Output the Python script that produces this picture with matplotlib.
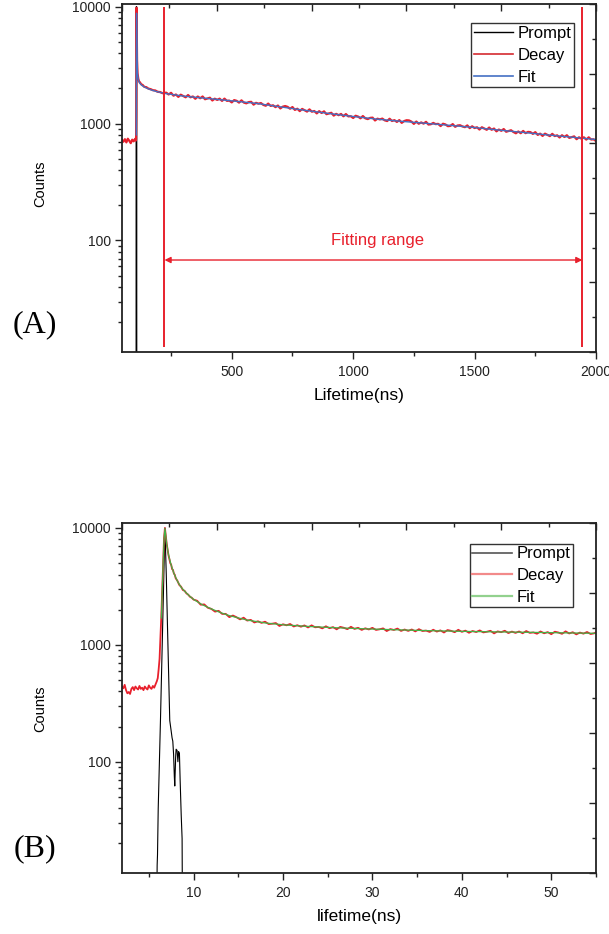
import matplotlib
matplotlib.use('Agg')
import matplotlib.pyplot as plt
from matplotlib.ticker import LogLocator, NullFormatter
from matplotlib.lines import Line2D

plt.rcParams['font.family'] = ['Liberation Sans', 'DejaVu Sans']

# ---------------- Panel A data (ns, counts) ----------------
a_prompt_x = [48, 106.5, 107.2, 107.6, 108.0, 108.6, 2000]
a_prompt_y = [1, 1, 300, 10000, 300, 1, 1]

a_decay_x = [48, 54, 60, 66, 72, 78, 84, 90, 96, 102, 105, 106, 107, 108, 109, 110, 112, 115,
             118, 122, 127, 133, 140, 148, 157, 166, 175, 185, 195, 205, 215, 222,
             230, 240, 250, 260, 270, 280, 290, 300, 310, 320, 330, 340, 350, 360, 370, 380, 390, 400,
             410, 420, 430, 440, 450, 460, 470, 480, 490, 500, 510, 520, 530, 540, 550, 560, 570, 580,
             590, 600, 610, 620, 630, 640, 650, 660, 670, 680, 690, 700, 710, 720, 730, 740, 750, 760,
             770, 780, 790, 800, 810, 820, 830, 840, 850, 860, 870, 880, 890, 900, 910, 920, 930, 940,
             950, 960, 970, 980, 990, 1000, 1010, 1020, 1030, 1040, 1050, 1060, 1070, 1080, 1090, 1100,
             1110, 1120, 1130, 1140, 1150, 1160, 1170, 1180, 1190, 1200, 1210, 1220, 1230, 1240, 1250,
             1260, 1270, 1280, 1290, 1300, 1310, 1320, 1330, 1340, 1350, 1360, 1370, 1380, 1390, 1400,
             1410, 1420, 1430, 1440, 1450, 1460, 1470, 1480, 1490, 1500, 1510, 1520, 1530, 1540, 1550,
             1560, 1570, 1580, 1590, 1600, 1610, 1620, 1630, 1640, 1650, 1660, 1670, 1680, 1690, 1700,
             1710, 1720, 1730, 1740, 1750, 1760, 1770, 1780, 1790, 1800, 1810, 1820, 1830, 1840, 1850,
             1860, 1870, 1880, 1890, 1900, 1910, 1920, 1930, 1940, 1950, 1960, 1970, 1980, 1990, 2000]
a_decay_y = [725, 700, 735, 690, 742, 712, 680, 728, 705, 740, 715, 735, 1200, 9800, 5400, 3500, 2700, 2420,
             2300, 2250, 2170, 2140, 2060, 2050, 1990, 1970, 1930, 1920, 1870, 1860, 1820, 1830,
             1840, 1774, 1833, 1733, 1774, 1692, 1767, 1720, 1678, 1755, 1679, 1705, 1630, 1705, 1647, 1706, 1615, 1640,
             1665, 1576, 1633, 1594, 1634, 1563, 1635, 1564, 1572, 1518, 1588, 1566, 1511, 1581, 1512, 1490, 1527, 1535,
             1452, 1505, 1480, 1499, 1445, 1421, 1483, 1416, 1434, 1382, 1428, 1348, 1395, 1413, 1390, 1340, 1385, 1309,
             1340, 1278, 1335, 1300, 1266, 1323, 1263, 1281, 1222, 1277, 1232, 1273, 1203, 1220, 1237, 1170, 1211, 1180,
             1209, 1154, 1206, 1152, 1157, 1116, 1167, 1149, 1109, 1160, 1109, 1092, 1119, 1124, 1063, 1101,
             1086, 1103, 1066, 1051, 1100, 1052, 1070, 1033, 1071, 1014, 1051, 1068, 1064, 1039, 994,
             1041, 997, 1023, 999, 1035, 981, 987, 1013, 989, 995, 952, 997, 983, 950, 955,
             990, 938, 963, 968, 945, 932, 965, 914, 948, 916, 930, 889, 930, 907, 885,
             925, 885, 907, 858, 889, 867, 898, 851, 864, 877, 847, 826, 856, 827, 865,
             828, 849, 845, 816, 845, 800, 820, 784, 820, 800, 781, 817, 782, 794, 760,
             795, 768, 795, 754, 765, 777, 735, 763, 743, 763, 729, 763, 730, 734, 708]

a_fit_x = [107, 108, 109, 110, 112, 115, 120, 130, 145, 165, 190, 225, 300, 400, 500, 600, 700, 800,
           900, 1000, 1100, 1200, 1300, 1400, 1500, 1600, 1700, 1800, 1900, 2000]
a_fit_y = [800, 8800, 5000, 3300, 2650, 2380, 2230, 2120, 2030, 1950, 1880, 1810, 1720, 1640, 1565, 1490, 1390, 1300,
           1220, 1150, 1090, 1045, 1005, 965, 925, 880, 840, 800, 765, 730]

a_range = [223, 1944]          # fitting range limits (ns)
a_range_lo, a_range_hi = 12.3, 10000
a_arrow_y = 68
a_text_pos = (1100, 100)

# ---------------- Panel B data (ns, counts) ----------------
b_prompt_x = [2.0, 5.8, 5.93, 5.97, 6.05, 6.3, 6.55, 6.8, 6.95, 7.1, 7.34, 7.47, 7.6, 7.68, 7.77, 7.85, 7.9,
              8.0, 8.05, 8.16, 8.25, 8.33, 8.42, 8.5, 8.62, 8.72, 8.8, 55.0]
b_prompt_y = [1, 1, 13, 16, 40, 225, 1500, 10000, 4000, 1300, 225, 190, 160, 150, 115, 75, 62,
              110, 128, 125, 100, 122, 118, 70, 35, 22, 1, 1]

b_decay_x = [2.0, 2.15, 2.3, 2.45, 2.6, 2.75, 2.9, 3.05, 3.2, 3.35, 3.5, 3.65, 3.8, 3.95, 4.1, 4.25, 4.4,
             4.55, 4.7, 4.85, 5.0, 5.15, 5.3, 5.45, 5.6, 5.75, 5.9,
             6.0, 6.1, 6.2, 6.3, 6.4, 6.5, 6.6, 6.7, 6.8, 6.9, 7.0, 7.1, 7.2, 7.3, 7.4, 7.5, 7.6, 7.7, 7.8,
             7.9, 8.0, 8.2, 8.4, 8.6, 8.8, 9.0, 9.2, 9.4, 9.6, 9.8, 10.0,
             10.4, 10.8, 11.2, 11.6, 12.0, 12.4, 12.8, 13.2, 13.6, 14.0, 14.4, 14.8, 15.2, 15.6, 16.0,
             16.4, 16.8, 17.2, 17.6, 18.0, 18.4, 18.8, 19.2, 19.6, 20.0, 20.4, 20.8, 21.2, 21.6, 22.0,
             22.4, 22.8, 23.2, 23.6, 24.0, 24.4, 24.8, 25.2, 25.6, 26.0, 26.4, 26.8, 27.2, 27.6, 28.0,
             28.4, 28.8, 29.2, 29.6, 30.0, 30.4, 30.8, 31.2, 31.6, 32.0, 32.4, 32.8, 33.2, 33.6, 34.0,
             34.4, 34.8, 35.2, 35.6, 36.0, 36.4, 36.8, 37.2, 37.6, 38.0, 38.4, 38.8, 39.2, 39.6, 40.0,
             40.4, 40.8, 41.2, 41.6, 42.0, 42.4, 42.8, 43.2, 43.6, 44.0, 44.4, 44.8, 45.2, 45.6, 46.0,
             46.4, 46.8, 47.2, 47.6, 48.0, 48.4, 48.8, 49.2, 49.6, 50.0, 50.4, 50.8, 51.2, 51.6, 52.0,
             52.4, 52.8, 53.2, 53.6, 54.0, 54.4, 54.8, 55.0]
b_decay_y = [440, 425, 455, 410, 385, 395, 380, 420, 435, 410, 440, 425, 415, 445, 420, 430, 410,
             440, 425, 415, 450, 430, 420, 445, 430, 460, 490,
             520, 620, 760, 1150, 1800, 3000, 5200, 8200, 10000, 8600, 7300, 6550, 5850, 5400, 5000, 4850, 4450, 4380, 4080,
             3980, 3720, 3530, 3260, 3150, 2950, 2900, 2760, 2690, 2580, 2530, 2440,
             2385, 2205, 2220, 2077, 2030, 1925, 1956, 1840, 1842, 1727, 1783, 1725, 1652, 1708, 1614,
             1636, 1554, 1592, 1542, 1579, 1506, 1518, 1537, 1451, 1500, 1471, 1509, 1436, 1473, 1430,
             1467, 1409, 1469, 1414, 1423, 1384, 1442, 1388, 1419, 1358, 1425, 1400, 1362, 1428, 1369,
             1400, 1342, 1386, 1355, 1399, 1342, 1359, 1384, 1313, 1365, 1341, 1379, 1316, 1353, 1317,
             1354, 1304, 1362, 1314, 1325, 1290, 1347, 1299, 1330, 1276, 1339, 1318, 1283, 1346, 1292,
             1324, 1269, 1314, 1287, 1330, 1278, 1295, 1320, 1254, 1304, 1284, 1321, 1261, 1299, 1266,
             1302, 1256, 1313, 1266, 1278, 1245, 1302, 1256, 1286, 1234, 1296, 1275, 1243, 1305, 1252,
             1283, 1230, 1274, 1247, 1289, 1238, 1256, 1280]

b_fit_x = [6.4, 6.5, 6.6, 6.7, 6.8, 6.9, 7.0, 7.2, 7.5, 7.8, 8.2, 8.6, 9.0, 9.5, 10, 11, 12, 13, 14, 15,
           16, 18, 20, 23, 26, 30, 35, 40, 45, 50, 55]
b_fit_y = [1700, 2900, 5000, 8000, 9900, 8500, 7300, 5900, 4800, 4100, 3500, 3120, 2880, 2640, 2450, 2200,
           2030, 1890, 1780, 1700, 1630, 1540, 1485, 1435, 1400, 1365, 1330, 1305, 1288, 1272, 1255]

labels = ['Prompt', 'Decay', 'Fit']
red = '#e8202c'
blue = '#4470c4'
green = '#45b045'

fig = plt.figure(figsize=(6.09, 9.34), dpi=100)
axA = fig.add_axes([122/609, 1-352/934, 474/609, 348/934])
axB = fig.add_axes([122/609, 1-873.3/934, 474/609, 350/934])


def style(ax, xlim, ylim, xmajor, xminor):
    ax.set_yscale('log')
    ax.set_xlim(*xlim)
    ax.set_ylim(*ylim)
    ax.set_yticks([100, 1000, 10000])
    ax.set_yticklabels(['100', '1000', '10000'])
    ax.yaxis.set_minor_locator(LogLocator(base=10, subs=range(2, 10)))
    ax.yaxis.set_minor_formatter(NullFormatter())
    ax.set_xticks(xmajor)
    ax.set_xticklabels([str(v) for v in xmajor])
    ax.set_xticks(xminor, minor=True)
    ax.tick_params(which='major', direction='out', length=5, width=1.0, pad=3,
                   labelsize=10, colors='#222222')
    ax.tick_params(which='minor', direction='out', length=3, width=1.0, colors='#222222')
    ax.tick_params(axis='x', which='major', pad=4)
    for s in ax.spines.values():
        s.set_linewidth(1.3)
        s.set_color('#222222')
    r = ax.twinx()
    r.set_ylim(0, 1)
    r.set_yticks([0, 0.2, 0.4, 0.6, 0.8, 1.0])
    r.set_yticks([0.1, 0.3, 0.5, 0.7, 0.9], minor=True)
    r.tick_params(which='major', direction='in', length=5, width=1.0, labelright=False, colors='#222222')
    r.tick_params(which='minor', direction='in', length=3, width=1.0, colors='#222222')
    t = ax.twiny()
    t.set_xlim(0, 1)
    t.set_xticks([0, 0.2, 0.4, 0.6, 0.8, 1.0])
    t.set_xticks([0.1, 0.3, 0.5, 0.7, 0.9], minor=True)
    t.tick_params(which='major', direction='in', length=5, width=1.0, labeltop=False, colors='#222222')
    t.tick_params(which='minor', direction='in', length=3, width=1.0, colors='#222222')
    for tw in (r, t):
        for s in tw.spines.values():
            s.set_visible(False)


style(axA, (48, 2000), (11.1, 10550), [500, 1000, 1500, 2000], [250, 750, 1250, 1750])
style(axB, (2, 55), (11.1, 10970), [10, 20, 30, 40, 50], [5, 15, 25, 35, 45, 55])

# Panel A
axA.plot(a_prompt_x, a_prompt_y, color='black', lw=1.0, label=labels[0])
axA.plot(a_decay_x, a_decay_y, color=red, lw=1.6, label=labels[1])
axA.plot(a_fit_x, a_fit_y, color=blue, lw=1.0, label=labels[2])
axA.vlines(a_range, a_range_lo, a_range_hi, color=red, lw=1.4)
axA.annotate('', xy=(a_range[0], a_arrow_y), xytext=(a_range[1], a_arrow_y),
             arrowprops=dict(arrowstyle='<|-|>', color=red, lw=1.0, mutation_scale=9,
                             shrinkA=0, shrinkB=0))
axA.text(a_text_pos[0], a_text_pos[1], 'Fitting range', color=red, fontsize=12,
         ha='center', va='center')
handlesA = [Line2D([], [], color='black', lw=1.0), Line2D([], [], color='#d42a30', lw=1.2),
            Line2D([], [], color=blue, lw=1.2)]
legA = axA.legend(handlesA, labels, loc='upper right', bbox_to_anchor=(0.9536, 0.9454), borderaxespad=0,
                  fontsize=12, handlelength=2.35, handletextpad=0.28, labelspacing=0.43,
                  borderpad=0.15, fancybox=False, framealpha=1, edgecolor='#333333')
legA.get_frame().set_linewidth(1.0)
axA.set_ylabel('Counts', fontsize=10.5)
axA.yaxis.set_label_coords(-0.158, 0.483)
axA.set_xlabel('Lifetime(ns)', fontsize=12.5)
axA.xaxis.set_label_coords(0.5, -0.103)

# Panel B
axB.plot(b_prompt_x, b_prompt_y, color='black', lw=0.8)
axB.plot(b_decay_x, b_decay_y, color=red, lw=1.3)
axB.plot(b_fit_x, b_fit_y, color=green, lw=0.9)
handlesB = [Line2D([], [], color='#555555', lw=1.2), Line2D([], [], color='#f28a8a', lw=1.6),
            Line2D([], [], color='#92d18e', lw=1.6)]
legB = axB.legend(handlesB, labels, loc='upper right', bbox_to_anchor=(0.9508, 0.9409), borderaxespad=0,
                  fontsize=12, handlelength=2.35, handletextpad=0.28, labelspacing=0.4,
                  borderpad=0.15, fancybox=False, framealpha=1, edgecolor='#333333')
legB.get_frame().set_linewidth(1.0)
axB.set_ylabel('Counts', fontsize=10.5)
axB.yaxis.set_label_coords(-0.158, 0.47)
axB.set_xlabel('lifetime(ns)', fontsize=12.5)
axB.xaxis.set_label_coords(0.5, -0.101)

fig.text(35/609, 1-325/934, '(A)', family='Liberation Serif', fontsize=23, ha='center', va='center')
fig.text(35/609, 1-849/934, '(B)', family='Liberation Serif', fontsize=23, ha='center', va='center')

fig.savefig('out.png', dpi=100)
